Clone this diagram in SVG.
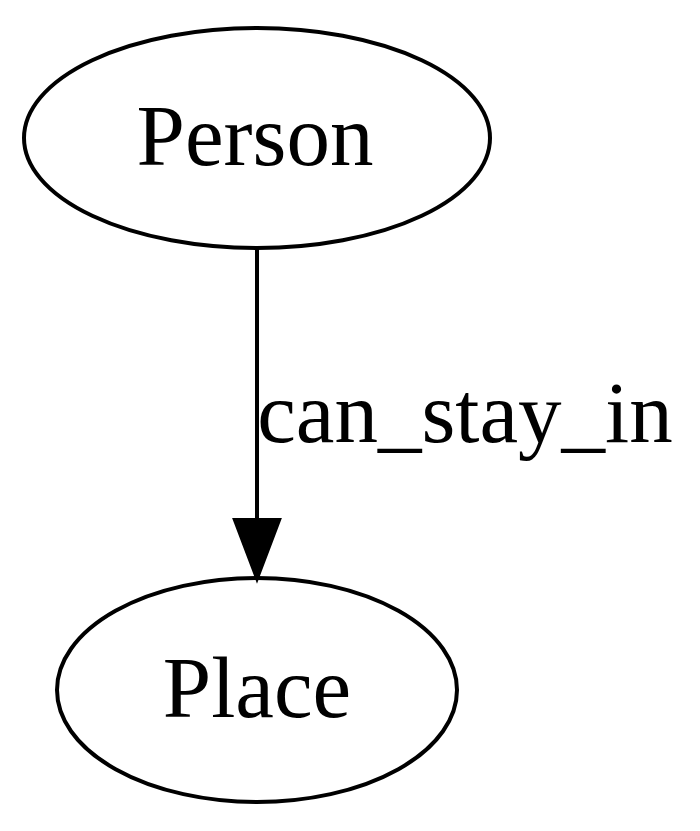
<svg xmlns="http://www.w3.org/2000/svg" width="700" height="831" viewBox="0 0 700 831">
<style>
.node ellipse{fill:none;stroke:#000;stroke-width:4}
text{font-family:"Liberation Serif","Times New Roman",serif;font-size:87px;fill:#000;text-anchor:middle}
.edge line{stroke:#000;stroke-width:4}
.edge polygon{fill:#000;stroke:#000;stroke-width:4}
</style>
<rect width="700" height="831" fill="#fff"/>
<g id="node-person" class="node">
<ellipse cx="257" cy="138" rx="233" ry="110"/>
<text x="255" y="165">Person</text>
</g>
<g id="node-place" class="node">
<ellipse cx="257" cy="690" rx="200" ry="112"/>
<text x="257" y="717">Place</text>
</g>
<g id="connectors" class="edge">
<line x1="257" y1="250" x2="257" y2="520"/>
<polygon points="235,520 279,520 257,578"/>
<text x="465" y="442">can_stay_in</text>
</g>
</svg>
